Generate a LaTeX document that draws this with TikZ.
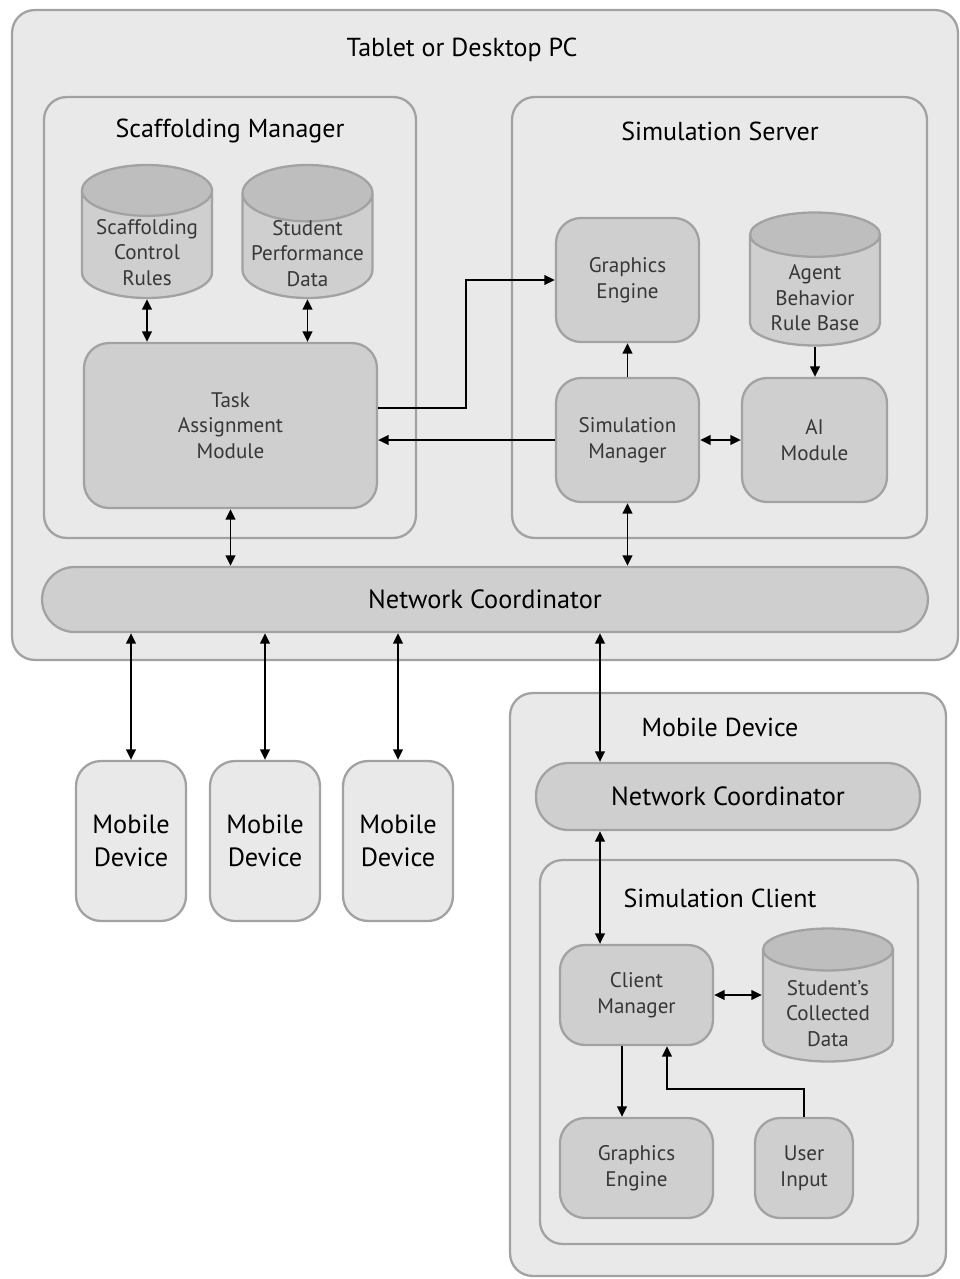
\documentclass[tikz,border=0pt]{standalone}
\usepackage{fontspec}
\setmainfont{PT Sans}
\usetikzlibrary{arrows.meta,shapes.geometric}

\definecolor{paneback}{RGB}{233,233,233}
\definecolor{blockgray}{RGB}{207,207,207}
\definecolor{endgray}{RGB}{190,190,190}
\definecolor{edgegray}{RGB}{162,162,162}
\definecolor{textgray}{RGB}{55,55,55}

\newcommand{\stacked}[1]{\begin{tabular}{@{}c@{}}#1\end{tabular}}

\begin{document}
\begin{tikzpicture}[
    x=0.02cm, y=-0.02cm,
    line width=1.1pt,
    >={Triangle[length=6pt,width=5.5pt]},
    frame/.style={draw=edgegray, fill=paneback, line width=1.3pt, rounded corners=0.45cm},
    block/.style={draw=edgegray, fill=blockgray, line width=1.3pt, rounded corners=0.5cm,
      align=center, text=textgray, font=\fontsize{12}{14.5}\selectfont},
    store/.style={cylinder, shape border rotate=90, aspect=0.5, draw=edgegray, line width=1.3pt,
      cylinder uses custom fill, cylinder body fill=blockgray, cylinder end fill=endgray,
      minimum width=2.6cm, minimum height=2.66cm, inner sep=0pt, anchor=shape center,
      text height=18.5pt, text depth=1.5pt, text=textgray, font=\fontsize{12}{14.5}\selectfont},
    pill/.style={draw=edgegray, fill=blockgray, line width=1.3pt, rounded corners=0.65cm,
      font=\fontsize{15}{17}\selectfont},
    device/.style={draw=edgegray, fill=paneback, line width=1.3pt, rounded corners=0.5cm,
      minimum width=2.2cm, minimum height=3.2cm, align=center, font=\fontsize{15}{19}\selectfont},
    title/.style={font=\fontsize{14.8}{17}\selectfont}
  ]

    \useasboundingbox[fill=white] (0,0) rectangle (960,1279);

    % 1. Frames
    \node[frame, minimum width=18.92cm, minimum height=13cm] (pc) at (485,335) {};
    \node[title] (pctitle) at (462,50) {Tablet or Desktop PC};
    \node[frame, minimum width=7.44cm, minimum height=8.82cm] (scaf) at (230,317.5) {};
    \node[title] (scaftitle) at (230,131) {Scaffolding Manager};
    \node[frame, minimum width=8.3cm, minimum height=8.82cm] (server) at (719.5,317.5) {};
    \node[title] (servertitle) at (720,131) {Simulation Server};
    \node[frame, minimum width=8.72cm, minimum height=11.66cm] (mobile) at (728,984.5) {};
    \node[title] (mobiletitle) at (720,727) {Mobile Device};
    \node[frame, minimum width=7.56cm, minimum height=7.68cm] (client) at (729,1052) {};
    \node[title] (clienttitle) at (720,898) {Simulation Client};

    % 2. Blocks
    \node[store] (SCR) at (147,231.5) {\stacked{Scaffolding\\Control\\Rules}};
    \node[store] (SPD) at (307.5,231.5) {\stacked{Student\\Performance\\Data}};
    \node[block, minimum width=5.86cm, minimum height=3.3cm] (TAM) at (230.5,425.5) {Task\\Assignment\\Module};
    \node[block, minimum width=2.86cm, minimum height=2.48cm] (GE) at (627.5,280) {Graphics\\Engine};
    \node[store] (ABR) at (815,279) {\stacked{Agent\\Behavior\\Rule Base}};
    \node[block, minimum width=2.86cm, minimum height=2.48cm] (SM) at (627.5,440) {Simulation\\Manager};
    \node[block, minimum width=2.9cm, minimum height=2.48cm] (AI) at (814.5,440) {AI\\Module};
    \node[pill, minimum width=17.72cm, minimum height=1.3cm] (NC) at (485,599.5) {Network Coordinator};
    \node[pill, minimum width=7.68cm, minimum height=1.34cm] (NCm) at (728,796.5) {Network Coordinator};
    \node[block, minimum width=3.06cm, minimum height=2cm] (CM) at (636.5,995) {Client\\Manager};
    \node[store] (SCD) at (828,995) {\stacked{Student's\\Collected\\Data}};
    \node[block, minimum width=3.06cm, minimum height=2cm] (GEc) at (636.5,1168) {Graphics\\Engine};
    \node[block, minimum width=1.96cm, minimum height=2cm] (UI) at (804,1168) {User\\Input};

    \foreach \name/\xpos in {MD1/131, MD2/265, MD3/398} {
        \node[device] (\name) at (\xpos,841) {Mobile\\Device};
    }

    % 3. Arrows
    \draw[<->] (SCR.south) -- (SCR.south |- TAM.north);
    \draw[<->] (SPD.south) -- (SPD.south |- TAM.north);
    \draw[->] ([yshift=0.35cm]TAM.east) -- ++(88,0) |- (GE.west);
    \draw[->] (SM.west) -- (SM.west -| TAM.east);
    \draw[->] (SM.north) -- (GE.south);
    \draw[->] (ABR.south) -- (ABR.south |- AI.north);
    \draw[<->] (SM.east) -- (AI.west);
    \draw[<->] (TAM.south) -- (TAM.south |- NC.north);
    \draw[<->] (SM.south) -- (SM.south |- NC.north);
    \foreach \name in {MD1,MD2,MD3} {
        \draw[<->] (\name.north |- NC.south) -- (\name.north);
    }

    \coordinate (cmtop) at ([xshift=-0.73cm]CM.north);
    \coordinate (cmout) at ([xshift=-0.29cm]CM.south);
    \coordinate (cmin) at ([xshift=0.61cm]CM.south);
    \draw[<->] (NC.south -| cmtop) -- (NCm.north -| cmtop);
    \draw[<->] (NCm.south -| cmtop) -- (cmtop);
    \draw[<->] (CM.east) -- (CM.east -| SCD.west);
    \draw[->] (cmout) -- (cmout |- GEc.north);
    \draw[->] (UI.north) -- ++(0,-28) -| (cmin);

  \end{tikzpicture}
\end{document}
